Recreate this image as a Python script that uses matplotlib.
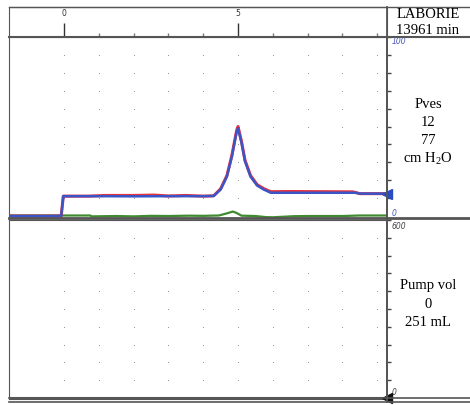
import matplotlib
matplotlib.use("Agg")
import matplotlib.pyplot as plt
from matplotlib.lines import Line2D
import numpy as np

# Pves traces (time in min, pressure in cm H2O)
t_blue = [-1.6, -0.08, -0.02, 1.0, 2.0, 3.0, 4.0, 4.3, 4.5, 4.68, 4.82, 4.96, 5.0,
          5.1, 5.2, 5.36, 5.55, 5.74, 5.94, 7.0, 8.4, 8.5, 9.3]
v_blue = [0.0, 0.0, 11.1, 11.1, 11.0, 11.1, 11.1, 11.2, 14.8, 22.0, 33.0, 47.0, 49.0,
          41.0, 30.6, 22.0, 17.0, 14.8, 13.0, 13.0, 13.0, 12.5, 12.5]
t_red = [-1.6, -0.08, -0.02, 0.7, 1.2, 2.0, 2.6, 3.0, 3.5, 4.0, 4.3, 4.5, 4.68, 4.82,
         4.96, 5.0, 5.1, 5.2, 5.36, 5.55, 5.74, 5.94, 6.5, 7.5, 8.3, 8.5, 9.3]
v_red = [0.0, 0.0, 11.1, 11.1, 11.5, 11.5, 11.7, 11.2, 11.5, 11.1, 11.3, 15.2, 22.6,
         33.6, 47.8, 50.0, 41.6, 31.2, 22.6, 17.5, 15.3, 13.6, 13.7, 13.6, 13.5, 12.5, 12.5]
t_green = [-1.6, 0.0, 0.75, 0.8, 1.5, 2.0, 2.5, 3.0, 3.6, 4.0, 4.45, 4.7, 4.85,
           4.95, 5.1, 5.5, 5.8, 6.0, 6.3, 6.6, 7.0, 8.0, 8.5, 9.3]
v_green = [0.3, 0.3, 0.3, -0.2, 0.0, -0.2, 0.1, 0.0, 0.2, 0.1, 0.3, 1.6, 2.5,
           1.8, 0.2, 0.0, -0.6, -0.7, -0.4, -0.1, 0.0, 0.0, 0.3, 0.3]
# Pump volume (mL)
t_pump = [-1.6, 9.3]
v_pump = [0.0, 0.0]

pves_labels = ["Pves", "12", "77", "cm H$_2$O"]
pump_labels = ["Pump vol", "0", "251 mL"]

W, H = 470, 405
def fx(px):
    return px / W
def fy(py):
    return 1 - py / H

XL = (-1.58, 9.28)
grid_t = np.arange(0, 10)
frame = "#555555"

plt.rcParams["font.family"] = ["Liberation Serif", "DejaVu Serif"]
plt.rcParams["mathtext.fontset"] = "custom"
plt.rcParams["mathtext.rm"] = "Liberation Serif"
plt.rcParams["mathtext.it"] = "Liberation Serif:italic"
fig = plt.figure(figsize=(W / 100, H / 100), dpi=100)

# time strip on top
ax_t = fig.add_axes([fx(9), fy(37), fx(387) - fx(9), fy(7) - fy(37)])
ax_t.set_xlim(*XL)
ax_t.set_ylim(0, 1)
ax_t.set_xticks([0, 5])
ax_t.set_xticks([t for t in grid_t if t not in (0, 5)], minor=True)
ax_t.tick_params(axis="x", which="major", direction="in", length=10, width=1, color="#333333", labelbottom=False)
ax_t.tick_params(axis="x", which="minor", direction="in", length=3, width=1, color="#777777")
ax_t.set_yticks([])
for s in ax_t.spines.values():
    s.set_color(frame)
for t in [0, 5]:
    ax_t.text(t, 0.8, str(t), ha="center", va="center", fontsize=5.5, family="DejaVu Sans", color="#333333")

def channel(ax, ylim, step):
    ax.set_xlim(*XL)
    ax.set_ylim(*ylim)
    rows = np.arange(step, ylim[1] + 1, step)
    gx, gy = np.meshgrid(grid_t, rows)
    ax.scatter(gx.ravel(), gy.ravel(), s=0.6, color="#888888", lw=0, zorder=1)
    ax.set_xticks([])
    ax.yaxis.tick_right()
    ax.set_yticks(rows)
    ax.tick_params(axis="y", direction="out", length=3, width=1, color="#444444", labelright=False)
    for s in ax.spines.values():
        s.set_color(frame)
    ax.spines["right"].set_linewidth(1.3)

ax_p = fig.add_axes([fx(9), fy(218), fx(387) - fx(9), (218 - 37) / H])
channel(ax_p, (-1.1, 100), 10)
ax_p.plot(t_green, v_green, color="#3f8a30", lw=1.6, zorder=2)
ax_p.plot(t_red, v_red, color="#e8323c", lw=2.2, zorder=3)
ax_p.plot(t_blue, v_blue, color="#3a55c8", lw=1.8, zorder=4)
ax_p.plot([XL[1]], [v_blue[-1]], marker="<", ms=7, color="#2a4cc0", clip_on=False, zorder=5)
ax_p.text(1.012, 1.0, "100", transform=ax_p.transAxes, ha="left", va="top", fontsize=5.5,
          style="italic", family="DejaVu Sans", color="#4455bb")
ax_p.text(1.012, 0.0, "0", transform=ax_p.transAxes, ha="left", va="bottom", fontsize=5.5,
          style="italic", family="DejaVu Sans", color="#4455bb")

ax_v = fig.add_axes([fx(9), fy(399), fx(387) - fx(9), (399 - 220) / H])
channel(ax_v, (-3.4, 600), 60)
ax_v.plot(t_pump, v_pump, color="#666666", lw=1.5, zorder=3)
ax_v.plot([XL[1]], [v_pump[-1]], marker="<", ms=7, color="#111111", clip_on=False, zorder=5)
ax_v.text(1.012, 0.99, "600", transform=ax_v.transAxes, ha="left", va="top", fontsize=5.5,
          style="italic", family="DejaVu Sans", color="#444444")
ax_v.text(1.012, 0.01, "0", transform=ax_v.transAxes, ha="left", va="bottom", fontsize=5.5,
          style="italic", family="DejaVu Sans", color="#444444")

# frame lines reaching the right edge
for py, lw in [(7, 1.0), (37, 1.5), (218, 2.0), (398, 1.2), (402, 1.2)]:
    fig.add_artist(Line2D([fx(9), 1], [fy(py), fy(py)], color=frame, lw=lw))
fig.add_artist(Line2D([fx(387), fx(387)], [fy(7), fy(402)], color=frame, lw=1.3))

cx = fx(428)
fig.text(cx, fy(15), "LABORIE", ha="center", va="center", fontsize=10.5)
fig.text(cx, fy(30), "13961 min", ha="center", va="center", fontsize=10.5)
for i, s in enumerate(pves_labels):
    fig.text(cx, fy(105 + i * 18), s, ha="center", va="center", fontsize=10.5)
for i, s in enumerate(pump_labels):
    fig.text(cx, fy(286 + i * 18), s, ha="center", va="center", fontsize=10.5)

fig.savefig("out.png", dpi=100)
